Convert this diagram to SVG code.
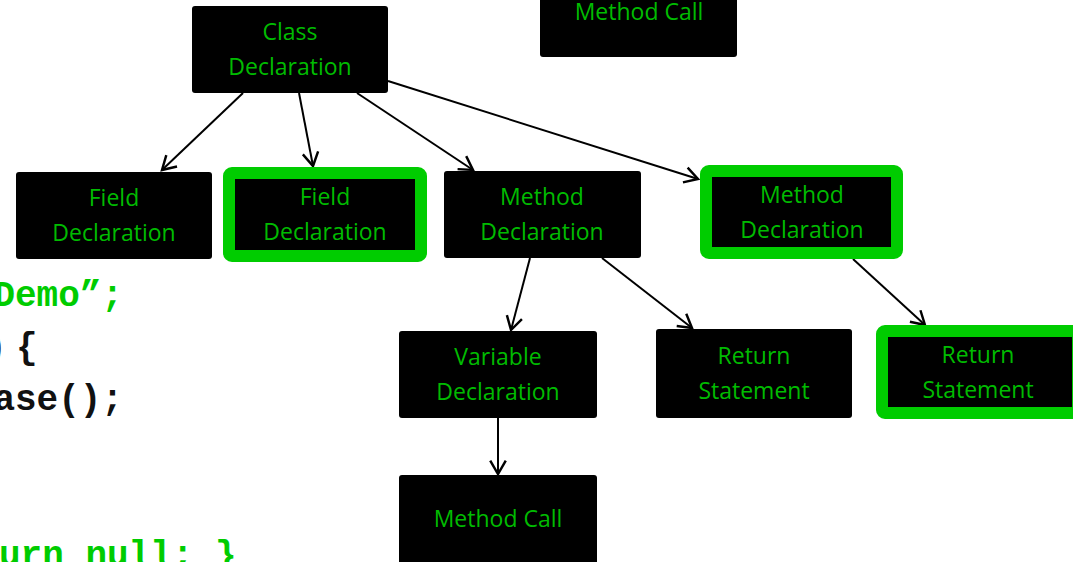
<svg xmlns="http://www.w3.org/2000/svg" width="1073" height="562" viewBox="0 0 1073 562">
<style>
.box{fill:#000;}
.hl{fill:#000;stroke:#00cc00;stroke-width:12;}
.lbl{font-family:"Open Sans","Liberation Sans",sans-serif;font-size:23px;fill:#00bb00;text-anchor:middle;}
.code{font-family:"Liberation Mono","DejaVu Sans Mono",monospace;font-size:36px;font-weight:bold;}
.g{fill:#00cc00;}
.k{fill:#111;}
.conn line{stroke:#000;stroke-width:2;marker-end:url(#arr);}
</style>
<defs>
<marker id="arr" markerUnits="userSpaceOnUse" markerWidth="20" markerHeight="20" viewBox="-14 -9 16 18" refX="0" refY="0" orient="auto">
<path d="M-12,-7 L0,0 L-12,7" fill="none" stroke="#000" stroke-width="2.2" stroke-linejoin="miter"/>
</marker>
</defs>
<rect width="1073" height="562" fill="#fff"/>
<g id="code">
<text class="code g" x="123" y="306" text-anchor="end">Demo”;</text>
<text class="code k" x="-15 8 16" y="358">) {</text>
<text class="code k" x="123" y="410" text-anchor="end">ase();</text>
<text class="code g" x="-1" y="566">urn null; }</text>
</g>
<g class="conn" id="connectors">
<line x1="243" y1="93" x2="162" y2="170"/>
<line x1="299" y1="93" x2="313" y2="166"/>
<line x1="357" y1="93" x2="473" y2="170"/>
<line x1="388" y1="81" x2="698" y2="179"/>
<line x1="530" y1="258" x2="511" y2="330"/>
<line x1="602" y1="258" x2="692" y2="328"/>
<line x1="853" y1="259" x2="925" y2="325"/>
<line x1="498" y1="418" x2="498" y2="474"/>
</g>
<g id="n-class">
<rect class="box" x="192" y="6" width="196" height="87" rx="3"/>
<text class="lbl" x="290" y="40">Class</text>
<text class="lbl" x="290" y="75">Declaration</text>
</g>
<g id="n-methodcall-top">
<rect class="box" x="540" y="-30" width="197" height="87" rx="3"/>
<text class="lbl" x="639" y="20">Method Call</text>
</g>
<g id="n-field1">
<rect class="box" x="16" y="172" width="196" height="87" rx="3"/>
<text class="lbl" x="114" y="206">Field</text>
<text class="lbl" x="114" y="241">Declaration</text>
</g>
<g id="n-field2">
<rect class="hl" x="229" y="173" width="192" height="83" rx="3"/>
<text class="lbl" x="325" y="205">Field</text>
<text class="lbl" x="325" y="240">Declaration</text>
</g>
<g id="n-method1">
<rect class="box" x="444" y="171" width="197" height="87" rx="3"/>
<text class="lbl" x="542" y="205">Method</text>
<text class="lbl" x="542" y="240">Declaration</text>
</g>
<g id="n-method2">
<rect class="hl" x="706" y="171" width="191" height="82" rx="3"/>
<text class="lbl" x="802" y="203">Method</text>
<text class="lbl" x="802" y="238">Declaration</text>
</g>
<g id="n-variable">
<rect class="box" x="399" y="331" width="198" height="87" rx="3"/>
<text class="lbl" x="498" y="365">Variable</text>
<text class="lbl" x="498" y="400">Declaration</text>
</g>
<g id="n-return1">
<rect class="box" x="656" y="329" width="196" height="89" rx="3"/>
<text class="lbl" x="754" y="364">Return</text>
<text class="lbl" x="754" y="399">Statement</text>
</g>
<g id="n-return2">
<rect class="hl" x="882" y="331" width="196" height="82" rx="3"/>
<text class="lbl" x="978" y="363">Return</text>
<text class="lbl" x="978" y="398">Statement</text>
</g>
<g id="n-methodcall-bottom">
<rect class="box" x="399" y="475" width="198" height="100" rx="3"/>
<text class="lbl" x="498" y="527">Method Call</text>
</g>
</svg>
